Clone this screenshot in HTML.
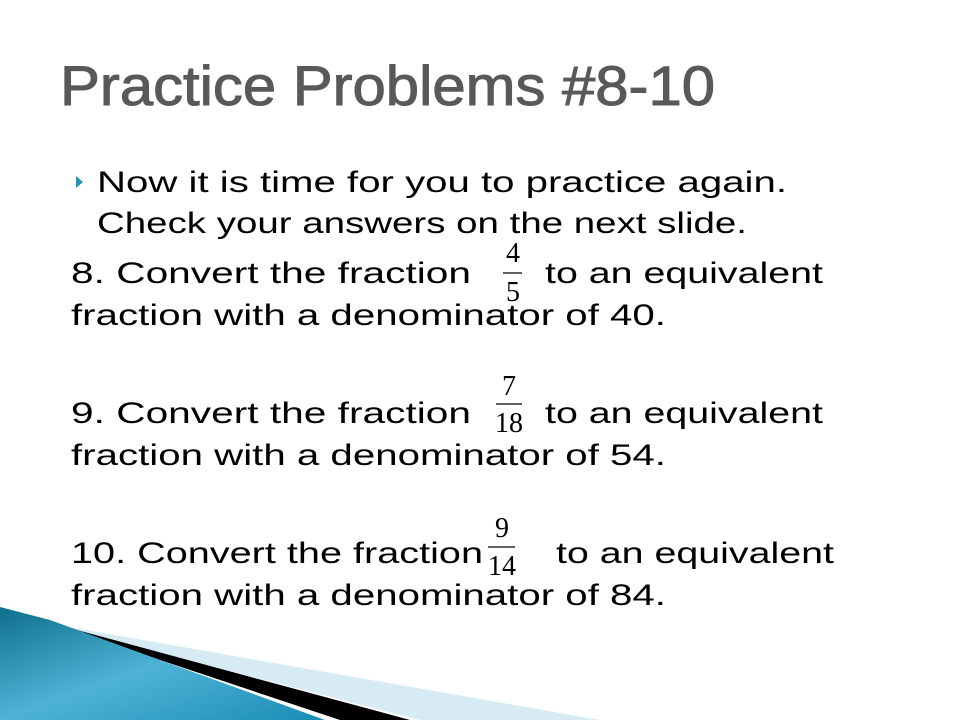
<!DOCTYPE html>
<html><head><meta charset="utf-8"><style>
html,body{margin:0;padding:0;background:#fff;}
svg{display:block}
.b{font-family:"Liberation Sans",sans-serif;font-size:30px;fill:#000}
.f{font-family:"Liberation Serif",serif;font-size:28px;fill:#000}
</style></head><body>
<svg width="960" height="720" viewBox="0 0 960 720">
<defs>
<linearGradient id="g" x1="0" y1="0" x2="1" y2="1">
<stop offset="0" stop-color="#0e6f8c"/><stop offset="0.5" stop-color="#4eb3d6"/><stop offset="1" stop-color="#1a8db5"/>
</linearGradient>
</defs>
<g>
<polygon points="40,622 600,720 420,720" fill="#d6ebf3"/>
<polygon points="40,620 410,720 340,720" fill="#000"/>
<polygon points="0,607 50,620 325,720 0,720" fill="url(#g)"/>
</g>
<text x="60" y="105" textLength="655" lengthAdjust="spacingAndGlyphs" style="font-family:'Liberation Sans',sans-serif;font-size:56px;fill:#595959;stroke:#595959;stroke-width:1">Practice Problems #8-10</text>
<polygon points="76,176 83,182 76,188" fill="#2a8fb0"/>
<text class="b" x="97" y="192" textLength="690" lengthAdjust="spacingAndGlyphs">Now it is time for you to practice again.</text>
<text class="b" x="97" y="233" textLength="650" lengthAdjust="spacingAndGlyphs">Check your answers on the next slide.</text>

<text class="b" x="71" y="283" textLength="400" lengthAdjust="spacingAndGlyphs">8.  Convert the fraction</text>
<text class="b" x="545" y="283" textLength="278" lengthAdjust="spacingAndGlyphs">to an equivalent</text>
<text class="b" x="71" y="325" textLength="595" lengthAdjust="spacingAndGlyphs">fraction with a denominator of 40.</text>
<g>
<text class="f" x="513" y="262" text-anchor="middle">4</text>
<line x1="503" y1="273" x2="522" y2="273" stroke="#000" stroke-width="1.2"/>
<text class="f" x="513" y="301" text-anchor="middle">5</text>
</g>

<text class="b" x="71" y="423" textLength="400" lengthAdjust="spacingAndGlyphs">9.  Convert the fraction</text>
<text class="b" x="545" y="423" textLength="278" lengthAdjust="spacingAndGlyphs">to an equivalent</text>
<text class="b" x="71" y="465" textLength="595" lengthAdjust="spacingAndGlyphs">fraction with a denominator of 54.</text>
<g>
<text class="f" x="509" y="395" text-anchor="middle">7</text>
<line x1="496" y1="404" x2="522" y2="404" stroke="#000" stroke-width="1.2"/>
<text class="f" x="509" y="432" text-anchor="middle">18</text>
</g>

<text class="b" x="71" y="563" textLength="412" lengthAdjust="spacingAndGlyphs">10. Convert the fraction</text>
<text class="b" x="556" y="563" textLength="278" lengthAdjust="spacingAndGlyphs">to an equivalent</text>
<text class="b" x="71" y="605" textLength="595" lengthAdjust="spacingAndGlyphs">fraction with a denominator of 84.</text>
<g>
<text class="f" x="502" y="537" text-anchor="middle">9</text>
<line x1="488" y1="547" x2="515" y2="547" stroke="#000" stroke-width="1.2"/>
<text class="f" x="502" y="575" text-anchor="middle">14</text>
</g>
</svg>
</body></html>
